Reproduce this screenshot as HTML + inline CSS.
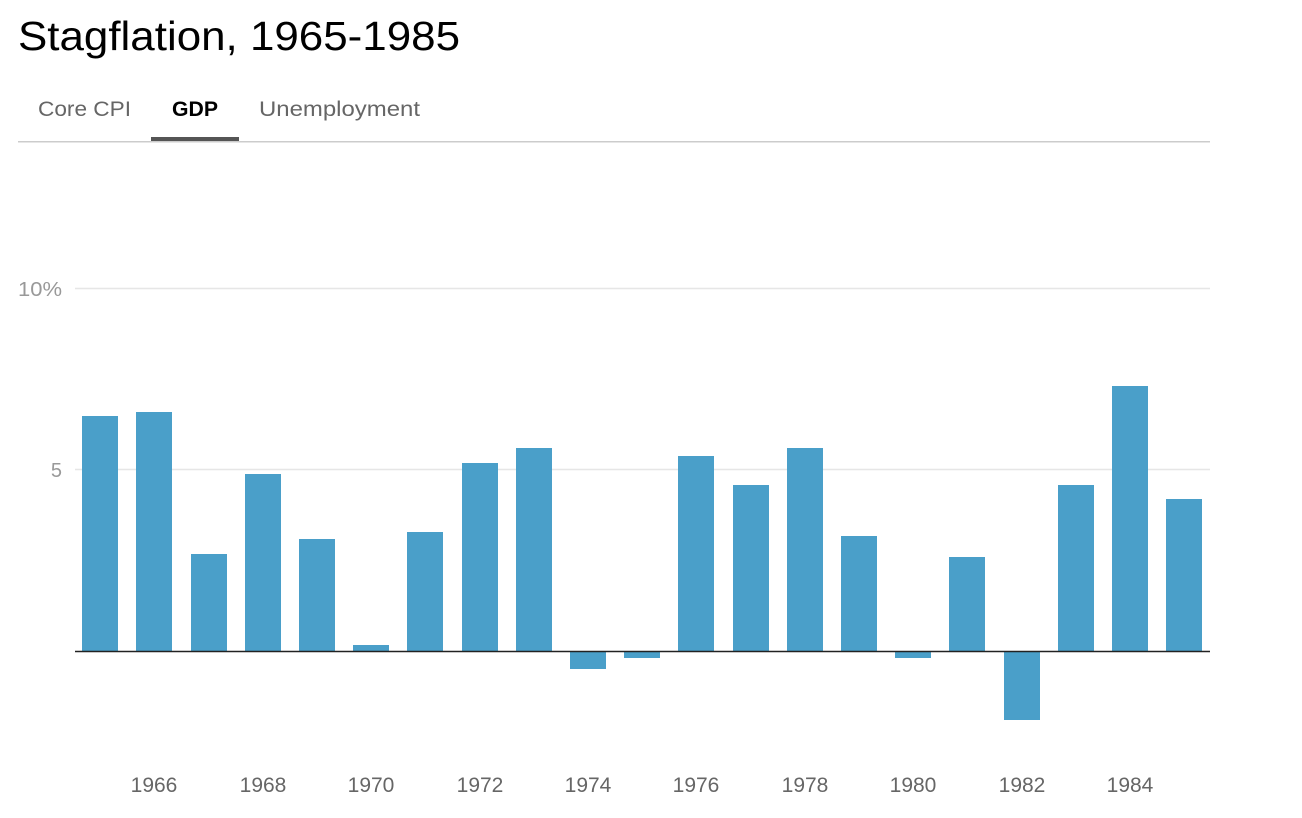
<!DOCTYPE html>
<html><head><meta charset="utf-8"><style>
html,body{margin:0;padding:0;background:#fff;width:1302px;height:818px;overflow:hidden}
svg{display:block}
text{font-family:"Liberation Sans",sans-serif}
</style></head><body>
<svg width="1302" height="818" viewBox="0 0 1302 818">
<text x="18" y="50" font-size="41" fill="#000" textLength="442" lengthAdjust="spacingAndGlyphs">Stagflation, 1965-1985</text>
<text x="38" y="116" font-size="21" fill="#666" textLength="93" lengthAdjust="spacingAndGlyphs">Core CPI</text>
<text x="172" y="116" font-size="21" fill="#000" font-weight="bold" textLength="46" lengthAdjust="spacingAndGlyphs">GDP</text>
<text x="259" y="116" font-size="21" fill="#666" textLength="161" lengthAdjust="spacingAndGlyphs">Unemployment</text>
<rect x="18" y="141" width="1192" height="1.5" fill="#ccc"/>
<rect x="151" y="137" width="88" height="4" fill="#555"/>
<line x1="75" y1="288.5" x2="1210" y2="288.5" stroke="#e6e6e6" stroke-width="1.5"/>
<line x1="75" y1="469.5" x2="1210" y2="469.5" stroke="#e6e6e6" stroke-width="1.5"/>
<text x="62" y="296" font-size="20" fill="#999" text-anchor="end" textLength="44" lengthAdjust="spacingAndGlyphs">10%</text>
<text x="62" y="477" font-size="20" fill="#999" text-anchor="end">5</text>
<g fill="#4a9fc9">
<rect x="82" y="416" width="36" height="235"/>
<rect x="136" y="412" width="36" height="239"/>
<rect x="191" y="554" width="36" height="97"/>
<rect x="245" y="474" width="36" height="177"/>
<rect x="299" y="539" width="36" height="112"/>
<rect x="353" y="645" width="36" height="6"/>
<rect x="407" y="532" width="36" height="119"/>
<rect x="462" y="463" width="36" height="188"/>
<rect x="516" y="448" width="36" height="203"/>
<rect x="570" y="651" width="36" height="18"/>
<rect x="624" y="651" width="36" height="7"/>
<rect x="678" y="456" width="36" height="195"/>
<rect x="733" y="485" width="36" height="166"/>
<rect x="787" y="448" width="36" height="203"/>
<rect x="841" y="536" width="36" height="115"/>
<rect x="895" y="651" width="36" height="7"/>
<rect x="949" y="557" width="36" height="94"/>
<rect x="1004" y="651" width="36" height="69"/>
<rect x="1058" y="485" width="36" height="166"/>
<rect x="1112" y="386" width="36" height="265"/>
<rect x="1166" y="499" width="36" height="152"/>
</g>
<line x1="75" y1="651.5" x2="1210" y2="651.5" stroke="#222" stroke-width="1.5"/>
<g font-size="21" fill="#666" text-anchor="middle">
<text x="154" y="792">1966</text>
<text x="263" y="792">1968</text>
<text x="371" y="792">1970</text>
<text x="480" y="792">1972</text>
<text x="588" y="792">1974</text>
<text x="696" y="792">1976</text>
<text x="805" y="792">1978</text>
<text x="913" y="792">1980</text>
<text x="1022" y="792">1982</text>
<text x="1130" y="792">1984</text>
</g>
</svg>
</body></html>
